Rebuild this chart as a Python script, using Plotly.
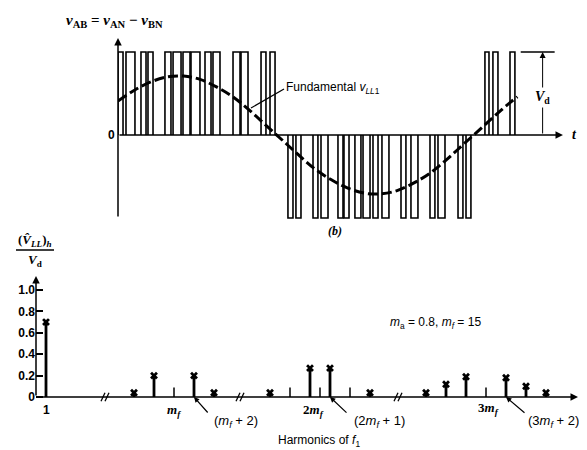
import plotly.graph_objects as go

W, H = 587, 450

# ---------------- top panel data (time in degrees, voltage in units of Vd) ----------------
pulse_start = [0.0, 7.3, 21.0, 27.4, 42.9, 50.3, 59.4, 66.7, 79.5, 86.8, 105.1, 112.4, 130.7, 138.9,
               155.3, 162.6, 178.2, 185.5, 201.0, 206.5, 216.5, 223.9, 233.0, 241.2, 258.6, 267.7,
               285.1, 292.4, 310.7, 318.0,
               335.3, 342.6, 358.2]
pulse_end = [4.6, 15.5, 25.6, 32.0, 48.4, 57.6, 65.8, 74.9, 85.0, 93.2, 111.5, 118.8, 135.2, 143.5,
             159.9, 167.2, 182.7, 191.9, 205.6, 211.1, 222.0, 230.3, 237.6, 247.6, 263.1, 274.1,
             289.6, 298.8, 315.2, 322.5,
             339.0, 347.2, 362.7]
pulse_level = [1, 1, 1, 1, 1, 1, 1, 1, 1, 1, 1, 1, 1, 1,
               -1, -1, -1, -1, -1, -1, -1, -1, -1, -1, -1, -1, -1, -1, -1, -1,
               1, 1, 1]

fund_t = [0, 15, 30, 45, 60, 75, 90, 105, 120, 135, 150, 165, 180, 195, 210, 225, 240,
          255, 270, 285, 300, 315, 330, 345, 360, 365]
fund_v = [0.41, 0.54, 0.64, 0.70, 0.71, 0.67, 0.58, 0.46, 0.30, 0.12, -0.06, -0.24, -0.41,
          -0.54, -0.64, -0.70, -0.71, -0.67, -0.58, -0.46, -0.30, -0.12, 0.06, 0.24, 0.41, 0.46]

# ---------------- bottom panel data ----------------
harm_order = [1, 11, 13, 17, 19, 25, 29, 31, 35, 39, 41, 43, 47, 49, 51]
harm_amp = [0.70, 0.04, 0.20, 0.20, 0.04, 0.04, 0.27, 0.27, 0.04, 0.04, 0.12, 0.19, 0.18, 0.10, 0.04]
mark_order = [15, 27, 30, 33, 45]
y_ticks = [0, 0.2, 0.4, 0.6, 0.8, 1.0]
y_tick_text = ["0", "0.2", "0.4", "0.6", "0.8", "1.0"]


def hpos(h):
    # broken horizontal axis: each segment is shifted
    if h < 8:
        return h
    if h < 22:
        return h - 1.2
    if h < 38:
        return h - 1.6
    return h


break_pos = [6.9, 20.4, 36.2]

fig = go.Figure()

# pulses
px_, py_ = [], []
for s, e, l in zip(pulse_start, pulse_end, pulse_level):
    px_ += [s, s, e, e, None]
    py_ += [0, l, l, 0, None]
fig.add_trace(go.Scatter(x=px_, y=py_, mode="lines", line=dict(color="black", width=1.6),
                         xaxis="x", yaxis="y", hoverinfo="skip", cliponaxis=False))
# fundamental
fig.add_trace(go.Scatter(x=fund_t, y=fund_v, mode="lines",
                         line=dict(color="black", width=3, dash="10px,4px", shape="spline"),
                         xaxis="x", yaxis="y", hoverinfo="skip"))

# harmonic stems
sx, sy = [], []
for h, a in zip(harm_order, harm_amp):
    sx += [hpos(h), hpos(h), None]
    sy += [0, a, None]
fig.add_trace(go.Scatter(x=sx, y=sy, mode="lines", line=dict(color="black", width=2.8),
                         xaxis="x2", yaxis="y2", hoverinfo="skip", cliponaxis=False))
fig.add_trace(go.Scatter(x=[hpos(h) for h in harm_order], y=harm_amp, mode="markers",
                         marker=dict(symbol="x", size=7, color="black"),
                         xaxis="x2", yaxis="y2", hoverinfo="skip", cliponaxis=False))
# small marks
mx, my = [], []
for h in mark_order:
    mx += [hpos(h), hpos(h), None]
    my += [0, 0.09, None]
fig.add_trace(go.Scatter(x=mx, y=my, mode="lines", line=dict(color="black", width=1.5),
                         xaxis="x2", yaxis="y2", hoverinfo="skip"))

shapes = []
annotations = []


def arrow(x, y, ax, ay, xr, yr, w=1.5, head=2, size=1.0):
    annotations.append(dict(x=x, y=y, ax=ax, ay=ay, xref=xr, yref=yr, axref=xr, ayref=yr,
                            text="", showarrow=True, arrowhead=head, arrowsize=size,
                            arrowwidth=w, arrowcolor="black"))


def text(px, py, t, size=12, xanchor="center", family="Liberation Sans", bg=None):
    d = dict(x=px / W, y=1 - py / H, xref="paper", yref="paper", text=t, showarrow=False,
             xanchor=xanchor, yanchor="middle", font=dict(size=size, family=family, color="black"))
    if bg:
        d["bgcolor"] = bg
    annotations.append(d)


def pline(x0, y0, x1, y1, w=1.2):
    shapes.append(dict(type="line", xref="paper", yref="paper", x0=x0 / W, y0=1 - y0 / H,
                       x1=x1 / W, y1=1 - y1 / H, line=dict(color="black", width=w)))


# top axes
arrow(0, 1.169, 0, -1.0, "x", "y")
arrow(406.6, 0, 0, 0, "x", "y")
# Vd dimension
shapes.append(dict(type="line", xref="x", yref="y", x0=368, x1=399, y0=1.0, y1=1.0,
                   line=dict(color="black", width=1.5)))
arrow(388, 1.0, 388, 0.0, "x", "y", w=1.0, size=1.2)
annotations.append(dict(x=388, y=0.45, xref="x", yref="y", text="<b><i>V</i><sub>d</sub></b>",
                        showarrow=False, bgcolor="white",
                        font=dict(size=14, family="Liberation Serif", color="black")))

# bottom axes
arrow(54.2, 0, 0, 0, "x2", "y2")
arrow(0, 1.13, 0, 0, "x2", "y2")
for b in break_pos:
    shapes.append(dict(type="rect", xref="x2", yref="y2", x0=b - 0.35, x1=b + 0.35,
                       y0=-0.01, y1=0.01, fillcolor="white", line=dict(width=0)))
    for d in (-0.2, 0.2):
        shapes.append(dict(type="line", xref="x2", yref="y2", x0=b + d - 0.2, x1=b + d + 0.2,
                           y0=-0.04, y1=0.04, line=dict(color="black", width=1.3)))

# leader arrows to harmonic labels
for h, (tx, ty) in [(17, (201, 406)), (31, (340, 406)), (47, (518, 406))]:
    annotations.append(dict(x=hpos(h), y=0, xref="x2", yref="y2", ax=tx - (28 + 10 * hpos(h)),
                            ay=ty - 389, text="", showarrow=True, arrowhead=2, arrowsize=0.9,
                            arrowwidth=1.2, arrowcolor="black"))

# texts
text(106, 13, "<b><i>v</i><sub>AB</sub> = <i>v</i><sub>AN</sub> − <i>v</i><sub>BN</sub></b>",
     size=15, family="Liberation Serif")
text(103, 127, "<b>0</b>", size=12)
text(566, 127, "<b><i>t</i></b>", size=14, family="Liberation Serif")
text(276, 80, "Fundamental <i>v</i><sub><i>LL</i>1</sub>", size=12, xanchor="left")
pline(243, 100, 276, 81)
text(327, 223, "<b><i>(b)</i></b>", size=12, family="Liberation Serif")

text(27, 232, "<b>(<i>V\u0302</i><sub><i>LL</i></sub>)<sub><i>h</i></sub></b>", size=13,
     family="Liberation Serif")
pline(8, 242, 46, 242, w=1.3)
text(27, 252, "<b><i>V</i><sub>d</sub></b>", size=13, family="Liberation Serif")

text(427, 315, "<i>m</i><sub>a</sub> = 0.8, <i>m</i><sub><i>f</i></sub> = 15", size=12)
text(38, 402, "<b>1</b>", size=12)
text(166, 402, "<b><i>m<sub>f</sub></i></b>", size=13, family="Liberation Serif")
text(305, 402, "<b>2<i>m<sub>f</sub></i></b>", size=13, family="Liberation Serif")
text(480, 400, "<b>3<i>m<sub>f</sub></i></b>", size=13, family="Liberation Serif")
text(228, 413, "(<i>m<sub>f</sub></i> + 2)", size=13)
text(371, 413, "(2<i>m<sub>f</sub></i> + 1)", size=13)
text(545, 413, "(3<i>m<sub>f</sub></i> + 2)", size=13)
text(576, 389, "<b><i>h</i></b>", size=13, family="Liberation Serif")
text(311, 433, "Harmonics of <i>f</i><sub>1</sub>", size=12)

fig.update_layout(
    width=W, height=H, margin=dict(l=0, r=0, t=0, b=0),
    paper_bgcolor="white", plot_bgcolor="white", showlegend=False,
    shapes=shapes, annotations=annotations,
    xaxis=dict(domain=[110 / W, 560 / W], range=[0, 411.2], visible=False, anchor="y"),
    yaxis=dict(domain=[1 - 212 / H, 1 - 28 / H], range=[-1.024, 1.193], visible=False, anchor="x"),
    xaxis2=dict(domain=[28 / W, 1], range=[0, 55.9], visible=False, anchor="y2"),
    yaxis2=dict(domain=[1 - 395 / H, 1 - 266 / H], range=[-0.056, 1.1495], anchor="x2",
                showgrid=False, zeroline=False, showline=False,
                tickvals=y_ticks, ticktext=y_tick_text, ticks="inside", ticklen=7,
                tickwidth=1.5, tickcolor="black",
                tickfont=dict(size=12, family="Liberation Sans", color="black", weight="bold")),
)

fig.write_html("out.html")
